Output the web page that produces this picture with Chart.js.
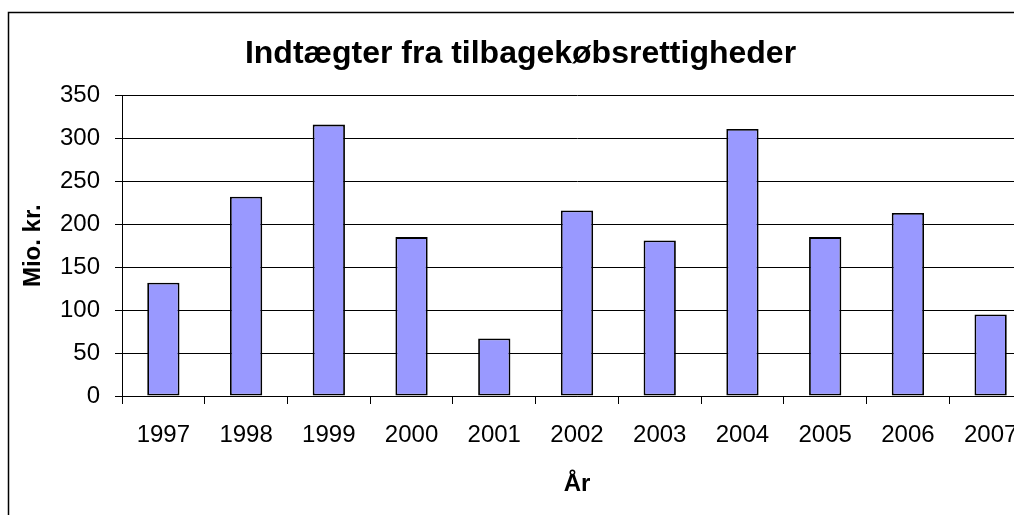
<!DOCTYPE html>
<html>
<head>
<meta charset="utf-8">
<script src="https://cdn.jsdelivr.net/npm/chart.js@4"></script>
<style>
    html, body { margin: 0; padding: 0; background: #fff; overflow: hidden; }
    .chart-wrap { width: 1040px; height: 515px; }
</style>
</head>
<body>
<div class="chart-wrap"><canvas id="chart" width="1040" height="515"></canvas></div>
<script>
const years = ['1997', '1998', '1999', '2000', '2001', '2002', '2003', '2004', '2005', '2006', '2007'];
const revenue = [132, 232, 316, 185, 67, 216, 181, 311, 185, 213, 95];
const yTicks = [0, 50, 100, 150, 200, 250, 300, 350];

const FONT = '"Liberation Sans", Arial, sans-serif';

// outer frame of the chart object (runs off the right and bottom edge)
const framePlugin = {
    id: 'frame',
    afterDraw(chart) {
        const ctx = chart.ctx;
        ctx.save();
        ctx.strokeStyle = '#000';
        ctx.lineWidth = 1.5;
        ctx.strokeRect(8.5, 12.5, 1100, 600);
        ctx.restore();
    }
};

const ctx = document.getElementById('chart').getContext('2d');

new Chart(ctx, {
    type: 'bar',
    data: {
        labels: years,
        datasets: [{
            data: revenue,
            backgroundColor: '#9999ff',
            borderColor: '#000',
            borderWidth: 1.8,
            borderSkipped: false,
            barPercentage: 0.39,
            categoryPercentage: 1
        }]
    },
    options: {
        responsive: false,
        animation: false,
        devicePixelRatio: 1,
        layout: {
            padding: { left: 9, right: 8, top: 0, bottom: 0 }
        },
        plugins: {
            legend: { display: false },
            tooltip: { enabled: false },
            title: {
                display: true,
                text: 'Indtægter fra tilbagekøbsrettigheder',
                color: '#000',
                font: { family: FONT, size: 32, weight: 'bold' },
                padding: { top: 35, bottom: 22 }
            }
        },
        scales: {
            x: {
                grid: {
                    drawOnChartArea: false,
                    drawTicks: true,
                    tickLength: 8,
                    tickColor: '#000',
                    tickWidth: 1
                },
                border: { color: '#000', width: 1 },
                ticks: {
                    color: '#000',
                    font: { family: FONT, size: 24 },
                    padding: 17,
                    maxRotation: 0,
                    autoSkip: false
                },
                title: {
                    display: true,
                    text: 'År',
                    color: '#000',
                    font: { family: FONT, size: 24, weight: 'bold' },
                    padding: { top: 0, bottom: 16 }
                },
                afterFit(scale) { scale.height = 119; }
            },
            y: {
                min: 0,
                max: 350,
                afterBuildTicks(scale) {
                    scale.ticks = yTicks.map(v => ({ value: v }));
                },
                grid: {
                    color: '#000',
                    lineWidth: 1,
                    tickLength: 7,
                    tickColor: '#000'
                },
                border: { color: '#000', width: 1 },
                ticks: {
                    color: '#000',
                    font: { family: FONT, size: 24 },
                    padding: 15
                },
                title: {
                    display: true,
                    text: 'Mio. kr.',
                    color: '#000',
                    font: { family: FONT, size: 24, weight: 'bold' },
                    padding: { top: 10, bottom: 0 }
                },
                afterFit(scale) { scale.width = 113; }
            }
        }
    },
    plugins: [framePlugin]
});
</script>
</body>
</html>
